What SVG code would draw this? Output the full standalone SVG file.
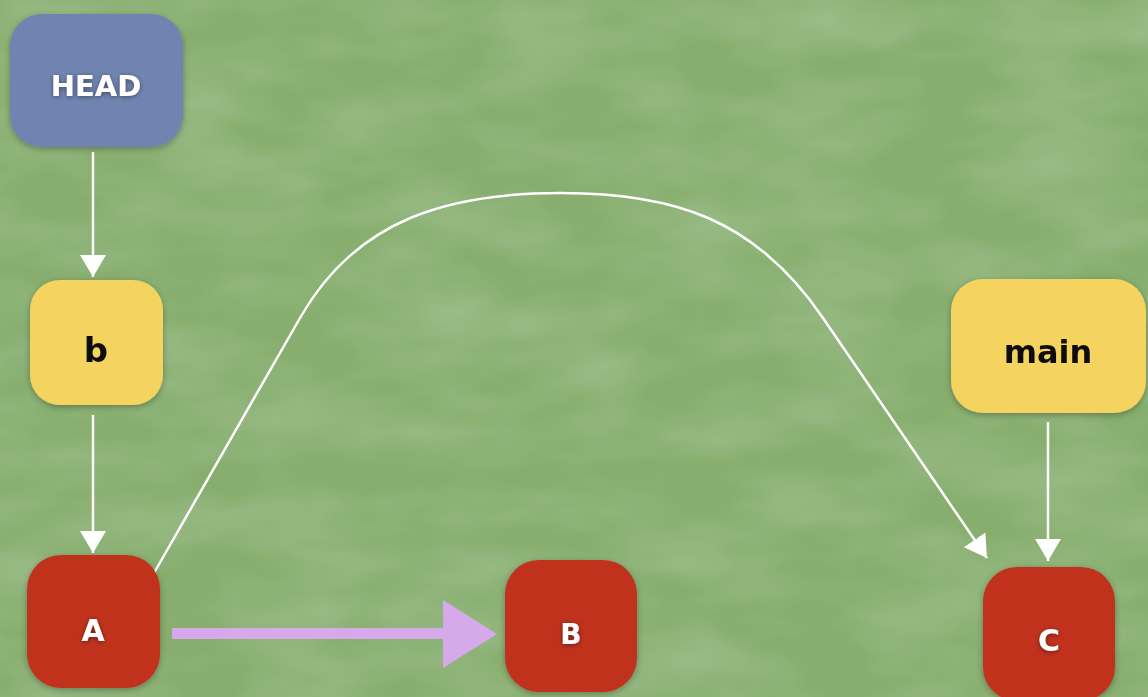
<svg xmlns="http://www.w3.org/2000/svg" width="1148" height="697" viewBox="0 0 1148 697">
<defs>
<style>
.bg{fill:#87ae6e}
.head{fill:#7184b1}
.branch{fill:#f4d35f}
.commit{fill:#c0321f}
.wt{font-family:"DejaVu Sans","Liberation Sans",sans-serif;font-weight:bold;fill:#ffffff;text-anchor:middle;dominant-baseline:central}
.bt{font-family:"DejaVu Sans","Liberation Sans",sans-serif;font-weight:bold;fill:#111111;text-anchor:middle;dominant-baseline:central}
.conn{fill:none;stroke:#ffffff;stroke-width:2.5}
</style>
<filter id="tex" x="0" y="0" width="100%" height="100%">
<feTurbulence type="fractalNoise" baseFrequency="0.008 0.02" numOctaves="3" seed="4" result="n"/>
<feColorMatrix in="n" type="matrix" values="0 0 0 0 0.47  0 0 0 0 0.64  0 0 0 0 0.40  0 0 0 -0.6 0.4" result="c"/>
<feComposite in="c" in2="SourceGraphic" operator="over"/>
</filter>
<filter id="sh" x="-20%" y="-20%" width="140%" height="140%">
<feDropShadow dx="0" dy="2" stdDeviation="3" flood-color="#000" flood-opacity="0.3"/>
</filter>
<filter id="tsh" x="-30%" y="-30%" width="160%" height="160%">
<feDropShadow dx="0" dy="1" stdDeviation="2.5" flood-color="#000" flood-opacity="0.45"/>
</filter>
<marker id="ah" viewBox="0 0 22 26" refX="22" refY="13" markerWidth="22" markerHeight="26" markerUnits="userSpaceOnUse" orient="auto">
<path d="M0,0 L22,13 L0,26 Z" fill="#ffffff"/>
</marker>
</defs>
<rect class="bg" x="0" y="0" width="1148" height="697"/>
<rect x="0" y="0" width="1148" height="697" fill="#87ae6e" filter="url(#tex)"/>

<g id="connectors">
<line class="conn" x1="93" y1="152" x2="93" y2="277" marker-end="url(#ah)"/>
<line class="conn" x1="93" y1="415" x2="93" y2="553" marker-end="url(#ah)"/>
<line class="conn" x1="1048" y1="422" x2="1048" y2="561" marker-end="url(#ah)"/>
<path class="conn" d="M154,573 L300,318 C357,218 450,193 561,193 C672,193 755,218 823,318 L987,558" marker-end="url(#ah)"/>
<g id="purple-arrow">
<rect x="172" y="628" width="274" height="11" fill="#d6a9ea"/>
<path d="M443,600 L497,634 L443,668 Z" fill="#d6a9ea"/>
</g>
</g>

<g id="node-head" filter="url(#sh)">
<rect class="head" x="10" y="14" width="173" height="133" rx="32"/>
<text class="wt" x="96" y="86" font-size="29" filter="url(#tsh)">HEAD</text>
</g>
<g id="node-b" filter="url(#sh)">
<rect class="branch" x="30" y="280" width="133" height="125" rx="30"/>
<text class="bt" x="96" y="350" font-size="34">b</text>
</g>
<g id="node-main" filter="url(#sh)">
<rect class="branch" x="951" y="279" width="195" height="134" rx="32"/>
<text class="bt" x="1048" y="352" font-size="32">main</text>
</g>
<g id="node-A" filter="url(#sh)">
<rect class="commit" x="27" y="555" width="133" height="133" rx="34"/>
<text class="wt" x="93" y="630" font-size="30" filter="url(#tsh)">A</text>
</g>
<g id="node-B" filter="url(#sh)">
<rect class="commit" x="505" y="560" width="132" height="132" rx="34"/>
<text class="wt" x="571" y="634" font-size="28" filter="url(#tsh)">B</text>
</g>
<g id="node-C" filter="url(#sh)">
<rect class="commit" x="983" y="567" width="132" height="134" rx="34"/>
<text class="wt" x="1049" y="640" font-size="30" filter="url(#tsh)">C</text>
</g>
</svg>
